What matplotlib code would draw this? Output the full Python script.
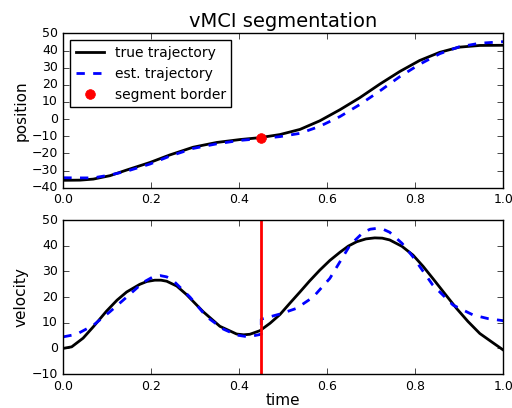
import numpy as np
import matplotlib
matplotlib.use('Agg')
import matplotlib.pyplot as plt


# posizione: (t, valore)
t_pos = [0.0, 0.038, 0.068, 0.106, 0.144, 0.197, 0.242, 0.295, 0.349, 0.402, 0.447,
         0.4925, 0.538, 0.583, 0.629, 0.674, 0.72, 0.765, 0.81, 0.856, 0.9, 0.947, 1.0]
pos_true = [-35.7, -35.6, -35.0, -33.0, -29.7, -25.3, -20.9, -16.4, -13.6, -11.9, -10.8,
            -9.0, -6.0, -1.0, 5.5, 12.5, 20.5, 27.8, 34.2, 39.0, 42.0, 43.0, 43.1]
pos_est = [-34.2, -34.3, -34.3, -32.6, -30.4, -26.2, -21.6, -17.1, -14.4, -12.4, -11.4,
           -10.2, -8.3, -4.2, 1.5, 8.5, 16.5, 24.8, 32.0, 38.2, 42.2, 44.3, 45.2]

# velocita'
t_vel_true = [0.0, 0.019, 0.045, 0.068, 0.098, 0.122, 0.144, 0.174, 0.19, 0.208, 0.222,
              0.235, 0.258, 0.28, 0.318, 0.356, 0.394, 0.41, 0.424, 0.447, 0.47, 0.4925,
              0.515, 0.538, 0.56, 0.583, 0.606, 0.629, 0.648, 0.667, 0.688, 0.708, 0.725,
              0.742, 0.77, 0.795, 0.818, 0.84, 0.868, 0.894, 0.92, 0.947, 0.975, 1.0]
vel_true = [0.0, 0.6, 4.0, 8.4, 14.5, 18.8, 22.0, 25.0, 26.1, 26.6, 26.6,
            26.2, 24.3, 21.0, 14.3, 8.6, 5.6, 5.3, 5.5, 6.9, 9.8, 13.2,
            17.6, 22.0, 26.3, 30.5, 34.3, 37.5, 39.9, 41.6, 42.7, 43.1, 43.0,
            42.3, 39.8, 36.4, 32.0, 27.3, 21.2, 15.6, 10.5, 5.8, 2.4, -0.6]

t_vel_est = [0.0, 0.03, 0.068, 0.106, 0.144, 0.182, 0.205, 0.22, 0.235, 0.25, 0.288, 0.326,
             0.364, 0.394, 0.42, 0.45, 0.45, 0.4925, 0.53, 0.568, 0.606, 0.629, 0.652, 0.682,
             0.698, 0.712, 0.728, 0.742, 0.77, 0.795, 0.84, 0.886, 0.932, 0.966, 1.0]
vel_est = [4.5, 5.5, 9.0, 14.3, 20.0, 25.8, 28.0, 28.4, 27.9, 26.4, 20.0, 12.3,
           7.5, 5.2, 4.5, 5.5, 11.4, 13.4, 15.6, 20.0, 27.3, 33.8, 40.3, 45.3,
           46.5, 46.8, 46.4, 45.3, 41.0, 35.7, 24.7, 16.9, 13.0, 11.6, 10.8]

t_border = 0.45
pos_border = -10.8


plt.style.use('classic')
plt.rcParams['figure.facecolor'] = 'white'
plt.rcParams['savefig.facecolor'] = 'white'
plt.rcParams['xtick.major.pad'] = 4
plt.rcParams['ytick.major.pad'] = 4

fig = plt.figure(figsize=(5.12, 4.08), dpi=100)

# Grafico posizione
ax1 = fig.add_axes([0.1237, 0.54, 0.859, 0.378])
ax1.plot(t_pos, pos_true, 'k-', lw=2, label='true trajectory')
ax1.plot(t_pos, pos_est, 'b--', lw=2, label='est. trajectory')
ax1.plot([t_border], [pos_border], 'o', color='red', mec='red', ms=7,
         label='segment border')
ax1.set_xlim(0, 1)
ax1.set_ylim(-40, 50)
ax1.set_yticks(np.arange(-40, 51, 10))
ax1.set_ylabel('position', fontsize=11, labelpad=2)
ax1.set_title('vMCI segmentation', fontsize=14)
ax1.tick_params(labelsize=9)
ax1.legend(loc='upper left', numpoints=1, fontsize=10)

# Grafico velocita'
ax2 = fig.add_axes([0.1237, 0.0833, 0.859, 0.377])
ax2.plot(t_vel_true, vel_true, 'k-', lw=2)
ax2.plot(t_vel_est, vel_est, 'b--', lw=2)
ax2.axvline(t_border, color='red', lw=2)
ax2.set_xlim(0, 1)
ax2.set_ylim(-10, 50)
ax2.set_ylabel('velocity', fontsize=11, labelpad=2)
ax2.set_xlabel('time', fontsize=11, labelpad=0)
ax2.tick_params(labelsize=9)

fig.savefig('out.png', dpi=100)
